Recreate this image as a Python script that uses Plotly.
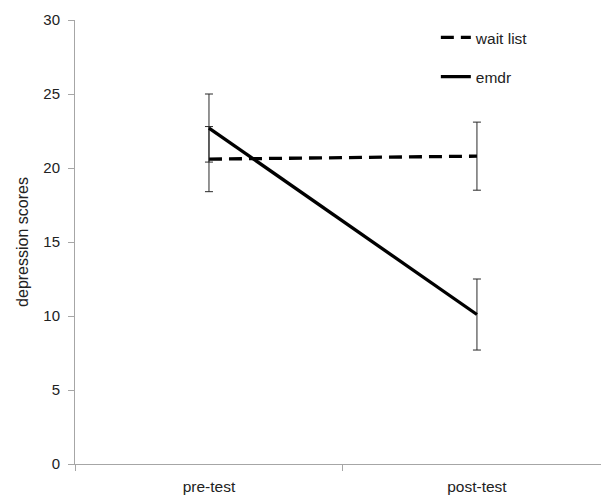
import plotly.graph_objects as go

categories = ["pre-test", "post-test"]
wait_list = [20.6, 20.8]
wait_list_err = [2.2, 2.3]
emdr = [22.7, 10.1]
emdr_err = [2.3, 2.4]
y_ticks = [0, 5, 10, 15, 20, 25, 30]

FONT = "Liberation Sans, Arial, Helvetica, sans-serif"

fig = go.Figure()
fig.add_trace(go.Scatter(
    x=categories, y=wait_list, name="wait list", mode="lines",
    line=dict(color="black", width=3.3, dash="13px,7px"),
    error_y=dict(type="data", array=wait_list_err, visible=True,
                 color="#2a2a2a", thickness=1, width=4),
    legendgroup="a",
))
fig.add_trace(go.Scatter(
    x=categories, y=emdr, name="emdr", mode="lines",
    line=dict(color="black", width=3.3),
    error_y=dict(type="data", array=emdr_err, visible=True,
                 color="#2a2a2a", thickness=1, width=4),
    legendgroup="b",
))

fig.update_layout(
    width=601, height=497,
    paper_bgcolor="white", plot_bgcolor="white",
    margin=dict(l=75, r=0, t=20, b=33, autoexpand=False),
    font=dict(family=FONT, size=15, color="#222222"),
    showlegend=True,
    legend=dict(
        x=0.686, y=0.998, xanchor="left", yanchor="top",
        bgcolor="rgba(0,0,0,0)", font=dict(size=15.5, color="#222222"),
        traceorder="grouped", tracegroupgap=16,
    ),
    xaxis=dict(
        type="category", range=[-0.5, 1.463],
        showline=True, linecolor="#a6a6a6", linewidth=1,
        showgrid=False, zeroline=False,
        ticks="outside", tickson="boundaries", ticklen=6, tickcolor="#a6a6a6",
        ticklabelstandoff=8,
        tickfont=dict(size=15.5, color="#222222"),
    ),
    yaxis=dict(
        range=[0, 30], tickvals=y_ticks,
        showline=True, linecolor="#a6a6a6", linewidth=1,
        showgrid=False, zeroline=False,
        ticks="outside", ticklen=6, tickcolor="#a6a6a6",
        ticklabelstandoff=5,
        tickfont=dict(size=15, color="#222222"),
        title=dict(text="depression scores", font=dict(size=16, color="#222222"), standoff=10),
    ),
)

fig.write_html(
    "out.html",
    config={"displayModeBar": False},
    post_script="document.body.style.margin='0';document.body.style.overflow='hidden';",
)
